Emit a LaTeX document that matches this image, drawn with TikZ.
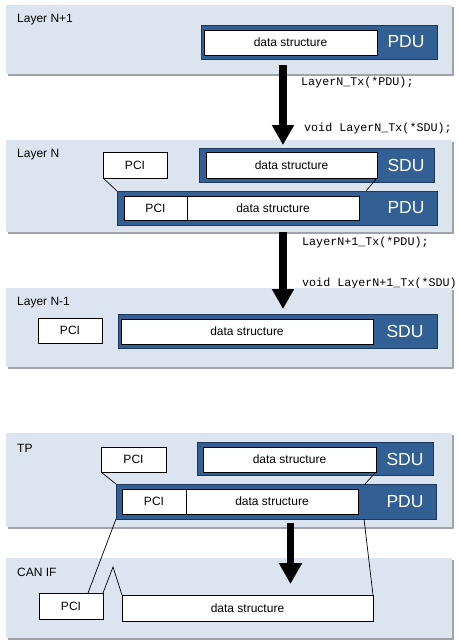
\documentclass[tikz,border=0pt]{standalone}
\usepackage{fontspec}
\setmainfont{Liberation Sans}
\newfontfamily\codefont{Liberation Mono}
\usetikzlibrary{arrows.meta}
\definecolor{panelc}{RGB}{220,229,239}
\definecolor{shadowc}{RGB}{160,163,168}
\definecolor{darkc}{RGB}{50,96,148}
\definecolor{darkedge}{RGB}{28,56,92}
\tikzset{
  panel/.style={fill=panelc, draw=none, inner sep=0pt, outer sep=0pt, anchor=north west},
  panelshadow/.style={fill=shadowc, draw=none},
  darkbox/.style={fill=darkc, draw=darkedge, line width=0.8pt, inner sep=0pt, outer sep=0pt, anchor=north west},
  wbox/.style={fill=white, draw=black, line width=0.7pt, inner sep=0pt, outer sep=0pt, anchor=north west, font=\fontsize{12}{14}\selectfont},
  darklabel/.style={text=white, font=\fontsize{17.5}{20}\selectfont, inner sep=0pt},
  layerlabel/.style={anchor=west, inner sep=0pt, font=\fontsize{12}{14}\selectfont},
  codelabel/.style={anchor=west, inner sep=0pt, font=\codefont\fontsize{11.7}{13}\selectfont},
  link/.style={draw=black, line width=0.7pt},
  bigarrow/.style={draw=black, line width=8pt, -{Triangle[width=21pt,length=20pt]}},
}
\newcommand{\panelat}[5]{% name, x1,y1,x2,y2
  \fill[panelshadow] (#2+2,#3+2) rectangle (#4+2,#5+2);
  \node[panel, minimum width=#4pt-#2pt, minimum height=#5pt-#3pt] (#1) at (#2,#3) {};
}
\begin{document}
\begin{tikzpicture}[x=1pt,y=-1pt]
\useasboundingbox (0,0) rectangle (458,643);

% ---------------- Layer N+1
\panelat{p1}{6}{5}{452}{74}
\node[layerlabel] (l1) at (17,20) {Layer N+1};
\node[darkbox, minimum width=236pt, minimum height=34pt] (pdu1) at (201,25) {};
\node[wbox, minimum width=173pt, minimum height=25pt] (ds1) at (204,30) {data structure};
\node[darklabel] (pdu1t) at (406,42) {PDU};

\node[codelabel] (c1) at (301,82) {LayerN\_Tx(*PDU);};
\node[codelabel] (c2) at (304,128) {void LayerN\_Tx(*SDU);};

% ---------------- Layer N
\panelat{p2}{6}{140}{452}{232}
\node[layerlabel] (l2) at (17,155) {Layer N};
\node[wbox, minimum width=64pt, minimum height=26pt] (pci2) at (103,152) {PCI};
\node[darkbox, minimum width=235pt, minimum height=34pt] (sdu2) at (199,148) {};
\node[wbox, minimum width=171pt, minimum height=26pt] (ds2) at (206,152) {data structure};
\node[darklabel] (sdu2t) at (406,165) {SDU};
\node[darkbox, minimum width=320pt, minimum height=34pt] (pdu2) at (117,191) {};
\node[wbox, minimum width=63pt, minimum height=24pt] (pcib2) at (124,196) {PCI};
\node[wbox, minimum width=172pt, minimum height=24pt] (dsb2) at (187,196) {data structure};
\node[darklabel] (pdu2t) at (406,208) {PDU};
\coordinate (k2) at (366,191);
\draw[link] (pci2.south west) -- (pdu2.north west);
\draw[link] (ds2.south east) -- (k2);

\node[codelabel] (c3) at (302,242) {LayerN+1\_Tx(*PDU);};
\node[codelabel] (c4) at (302,283) {void LayerN+1\_Tx(*SDU)};

% ---------------- Layer N-1
\panelat{p3}{6}{288}{452}{367}
\node[layerlabel] (l3) at (17,303) {Layer N-1};
\node[wbox, minimum width=64pt, minimum height=25pt] (pci3) at (38,318) {PCI};
\node[darkbox, minimum width=319pt, minimum height=34pt] (sdu3) at (118,314) {};
\node[wbox, minimum width=252pt, minimum height=25pt] (ds3) at (121,319) {data structure};
\node[darklabel] (sdu3t) at (405,331) {SDU};

% ---------------- TP
\panelat{p4}{6}{433}{452}{527}
\node[layerlabel] (l4) at (17,448) {TP};
\node[wbox, minimum width=65pt, minimum height=25pt] (pci4) at (101,447) {PCI};
\node[darkbox, minimum width=236pt, minimum height=33pt] (sdu4) at (197,442) {};
\node[wbox, minimum width=173pt, minimum height=25pt] (ds4) at (203,447) {data structure};
\node[darklabel] (sdu4t) at (405,459) {SDU};
\node[darkbox, minimum width=320pt, minimum height=35pt] (pdu4) at (116,484) {};
\node[wbox, minimum width=64pt, minimum height=25pt] (pcib4) at (122,489) {PCI};
\node[wbox, minimum width=172pt, minimum height=25pt] (dsb4) at (186,489) {data structure};
\node[darklabel] (pdu4t) at (405,502) {PDU};
\coordinate (k4) at (365,484);
\draw[link] (pci4.south west) -- (pdu4.north west);
\draw[link] (ds4.south east) -- (k4);

% ---------------- CAN IF
\panelat{p5}{6}{558}{452}{638}
\node[layerlabel] (l5) at (17,572) {CAN IF};
\node[wbox, minimum width=64pt, minimum height=26pt] (pci5) at (39,593) {PCI};
\node[wbox, minimum width=251pt, minimum height=26pt] (ds5) at (122,595) {data structure};
\coordinate (j1) at (88,593);
\coordinate (j2) at (364,519);
\coordinate (peak) at (113,567);
\draw[link] (pdu4.south west) -- (j1);
\draw[link] (pci5.north east) -- (peak) -- (ds5.north west);
\draw[link] (j2) -- (ds5.north east);

% ---------------- big arrows (on top)
\coordinate (a1s) at (283,65);
\coordinate (a1e) at (283,145);
\draw[bigarrow] (a1s) -- (a1e);
\coordinate (a2s) at (283,232);
\coordinate (a2e) at (283,309);
\draw[bigarrow] (a2s) -- (a2e);
\coordinate (a3s) at (290.5,523);
\coordinate (a3e) at (290.5,584);
\draw[bigarrow, line width=7pt, -{Triangle[width=22pt,length=21pt]}] (a3s) -- (a3e);
\end{tikzpicture}
\end{document}
